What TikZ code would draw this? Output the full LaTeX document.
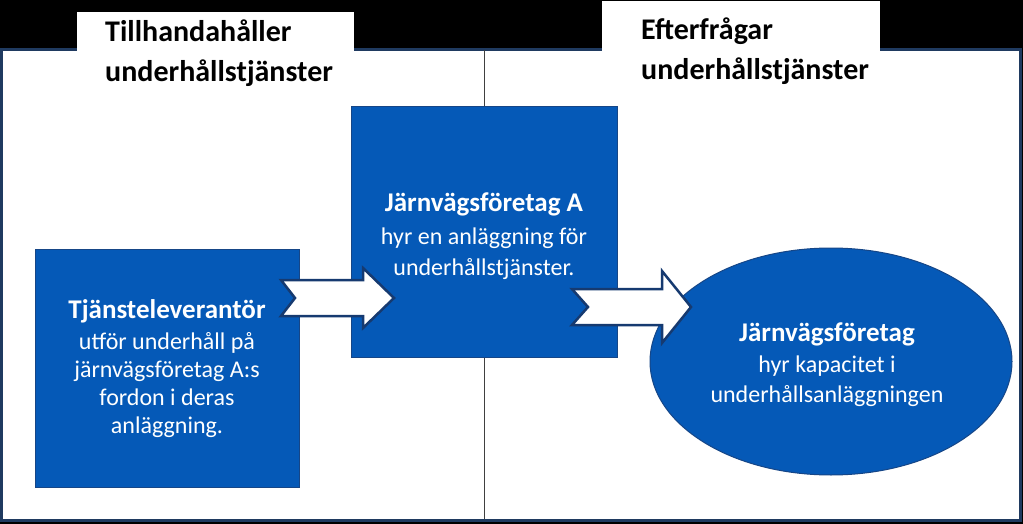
\documentclass[tikz,border=0pt]{standalone}
\usepackage{fontspec}
\setmainfont{Carlito}
\usepackage{xcolor}
\usepackage{tikz}
\usetikzlibrary{shapes.geometric}

\definecolor{boxblue}{RGB}{5,89,183}
\definecolor{edgeblue}{RGB}{22,70,135}
\definecolor{panelblue}{RGB}{31,58,96}
\definecolor{arrowblue}{RGB}{22,58,112}

\tikzset{
  bluebox/.style={draw=edgeblue, line width=1pt, fill=boxblue, inner sep=0pt},
  boxtext/.style={text=white, align=center, font=\fontsize{24}{28}\selectfont},
  headtext/.style={anchor=north west, align=left, inner sep=0pt,
    font=\fontsize{30}{40}\selectfont\bfseries},
  flowarrow/.style={fill=white, draw=arrowblue, line width=2.5pt, line join=miter}
}

\newcommand{\boxtitle}[1]{{\fontsize{27}{29}\selectfont\bfseries #1}}

\begin{document}
\begin{tikzpicture}[x=1pt, y=-1pt]
\useasboundingbox (0,0) rectangle (1023,524);
\fill[black] (0,0) rectangle (1023,524);
\draw[fill=white, draw=panelblue, line width=3pt] (1.5,50) rectangle (1020,520);
\fill[white] (77,12) rectangle (354,55);
\fill[white] (602,1) rectangle (880,52);
\draw[black!75, line width=1pt] (484,50) -- (484,518.5);

\node[headtext] (leftHead) at (105,20) {Tillhandahåller\\underhållstjänster};
\node[headtext] (rightHead) at (641,18) {Efterfrågar\\underhållstjänster};

\node[bluebox, minimum width=264, minimum height=238] (leverantor) at (167,368) {};
\node[bluebox, minimum width=266, minimum height=250] (foretagA) at (484,232) {};
\node[bluebox, ellipse, minimum width=362, minimum height=227] (foretag) at (831,361.5) {};

\coordinate (arrowA) at (281,298);
\coordinate (arrowB) at (572,307);
\draw[flowarrow] (arrowA) ++(0,-18) -- ++(82,0) -- ++(0,-12) -- ++(31,30)
  -- ++(-31,30) -- ++(0,-12) -- ++(-82,0) -- ++(14,-18) -- cycle;
\draw[flowarrow] (arrowB) ++(0,-18) -- ++(90,0) -- ++(0,-18) -- ++(29,36)
  -- ++(-29,36) -- ++(0,-18) -- ++(-90,0) -- ++(16,-18) -- cycle;

\node[boxtext] (leverantorText) at (167,369)
  {\boxtitle{Tjänsteleverantör}\\[3pt] utför underhåll på\\ järnvägsföretag A:s\\ fordon i deras\\ anläggning.};
\node[boxtext, font=\fontsize{24}{31}\selectfont] (foretagAText) at (484,236)
  {\boxtitle{Järnvägsföretag A}\\[2pt] hyr en anläggning för\\ underhållstjänster.};
\node[boxtext, font=\fontsize{24}{30}\selectfont] (foretagText) at (827,365)
  {\boxtitle{Järnvägsföretag}\\[1pt] hyr kapacitet i\\ underhållsanläggningen};
\end{tikzpicture}
\end{document}
